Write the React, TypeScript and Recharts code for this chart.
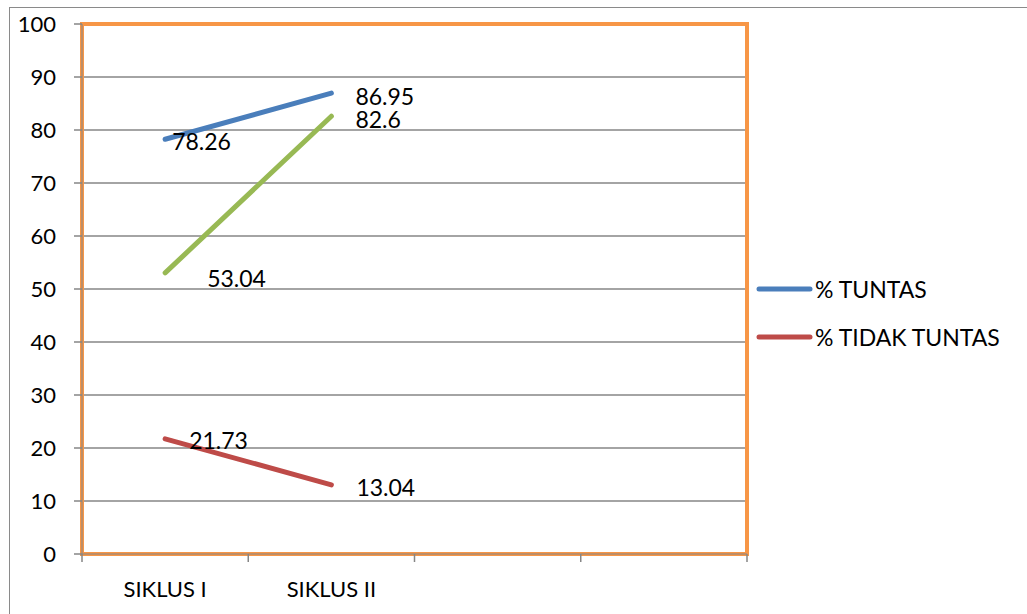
import React from 'react'
import {
  LineChart,
  Line,
  XAxis,
  YAxis,
  CartesianGrid,
  Legend,
  LabelList,
  ReferenceArea,
} from 'recharts'

// categories: two cycles plus two empty slots like the original sheet
const categories = ['SIKLUS I', 'SIKLUS II', '', ' ']
const tuntas = [78.26, 86.95]
const tidakTuntas = [21.73, 13.04]
const nilaiLain = [53.04, 82.6]
const yTicks = [0, 10, 20, 30, 40, 50, 60, 70, 80, 90, 100]
const legendOrder = ['% TUNTAS', '% TIDAK TUNTAS']

const data = categories.map((name, i) => ({
  name,
  tuntas: tuntas[i] ?? null,
  tidak: tidakTuntas[i] ?? null,
  lain: nilaiLain[i] ?? null,
}))

const FONT = 'Lato, "Open Sans", sans-serif'
const FONT_SIZE = 23
const GRID = '#868686'

const CHART_W = 1027
const CHART_H = 614
const MARGIN = { top: 24, right: 280, bottom: 10, left: 10 }
const Y_AXIS_W = 72
const PLOT_W = CHART_W - MARGIN.left - Y_AXIS_W - MARGIN.right
const BAND = PLOT_W / categories.length

// label offsets (dx, dy) per point, as placed in the original
const labelOffsets: Record<string, [number, number][]> = {
  tuntas: [[7, 2], [24, 3]],
  tidak: [[24, 1], [25, 2]],
  lain: [[42, 5], [24, 3]],
}

const makeLabel = (key: string) => (props: any) => {
  const { x, y, value, index } = props
  if (value == null) return null
  const [dx, dy] = labelOffsets[key][index] || [20, 0]
  return (
    <text
      x={x + dx}
      y={y + dy}
      dominantBaseline="central"
      textAnchor="start"
      fontFamily={FONT}
      fontSize={FONT_SIZE}
      fill="#000"
    >
      {value}
    </text>
  )
}

const CategoryTick = (props: any) => {
  const { x, y, payload, index } = props
  const axisY = y - 8
  return (
    <g>
      <line x1={x - BAND / 2} y1={axisY} x2={x - BAND / 2} y2={axisY + 8} stroke={GRID} strokeWidth={1.5} />
      {index === categories.length - 1 && (
        <line x1={x + BAND / 2} y1={axisY} x2={x + BAND / 2} y2={axisY + 8} stroke={GRID} strokeWidth={1.5} />
      )}
      <text
        x={x}
        y={axisY + 34}
        textAnchor="middle"
        dominantBaseline="central"
        fontFamily={FONT}
        fontSize={22}
        fill="#000"
      >
        {payload.value.trim()}
      </text>
    </g>
  )
}

const LegendContent = (props: any) => {
  const items = (props.payload || [])
    .filter((e: any) => legendOrder.includes(e.value))
    .sort((a: any, b: any) => legendOrder.indexOf(a.value) - legendOrder.indexOf(b.value))
  return (
    <div>
      {items.map((entry: any) => (
        <div
          key={entry.value}
          style={{ display: 'flex', alignItems: 'center', height: 48, fontFamily: FONT, fontSize: FONT_SIZE, color: '#000' }}
        >
          <svg width={60} height={10}>
            <line x1={4} y1={5} x2={55} y2={5} stroke={entry.color} strokeWidth={5} strokeLinecap="round" />
          </svg>
          <span>{entry.value}</span>
        </div>
      ))}
    </div>
  )
}

export default function App() {
  return (
    <div style={{ position: 'absolute', left: 0, top: 0, width: CHART_W, height: CHART_H, overflow: 'hidden', background: '#fff' }}>
      <div
        style={{
          position: 'absolute',
          left: 9,
          top: 7,
          width: CHART_W,
          height: CHART_H,
          borderTop: '1.5px solid #8a8a8a',
          borderLeft: '1.5px solid #8a8a8a',
        }}
      />
      <div style={{ position: 'absolute', left: 0, top: 0 }}>
        <LineChart width={CHART_W} height={CHART_H} data={data} margin={MARGIN}>
          <CartesianGrid vertical={false} stroke={GRID} strokeWidth={1.5} />
          <XAxis
            dataKey="name"
            scale="band"
            height={50}
            axisLine={{ stroke: GRID }}
            tickLine={false}
            tickSize={8}
            tickMargin={0}
            tick={<CategoryTick />}
            interval={0}
          />
          <YAxis
            domain={[0, 100]}
            ticks={yTicks}
            width={Y_AXIS_W}
            axisLine={{ stroke: GRID }}
            tickLine={{ stroke: GRID, strokeWidth: 1.5 }}
            tickSize={8}
            tickMargin={18}
            tick={{ fontFamily: FONT, fontSize: 22, fill: '#000' }}
          />
          <ReferenceArea y1={0} y2={100} fill="none" stroke="#F79646" strokeWidth={4} ifOverflow="visible" />
          <Legend
            layout="vertical"
            align="center"
            verticalAlign="middle"
            wrapperStyle={{ left: 755, top: 265, width: 270 }}
            content={<LegendContent />}
          />
          <Line
            dataKey="tuntas"
            name="% TUNTAS"
            stroke="#4A7EBB"
            strokeWidth={5}
            strokeLinecap="round"
            dot={false}
            activeDot={false}
            isAnimationActive={false}
          >
            <LabelList dataKey="tuntas" content={makeLabel('tuntas')} />
          </Line>
          <Line
            dataKey="tidak"
            name="% TIDAK TUNTAS"
            stroke="#BE4B48"
            strokeWidth={5}
            strokeLinecap="round"
            dot={false}
            activeDot={false}
            isAnimationActive={false}
          >
            <LabelList dataKey="tidak" content={makeLabel('tidak')} />
          </Line>
          <Line
            dataKey="lain"
            name="lain"
            legendType="none"
            stroke="#98B954"
            strokeWidth={5}
            strokeLinecap="round"
            dot={false}
            activeDot={false}
            isAnimationActive={false}
          >
            <LabelList dataKey="lain" content={makeLabel('lain')} />
          </Line>
        </LineChart>
      </div>
    </div>
  )
}
